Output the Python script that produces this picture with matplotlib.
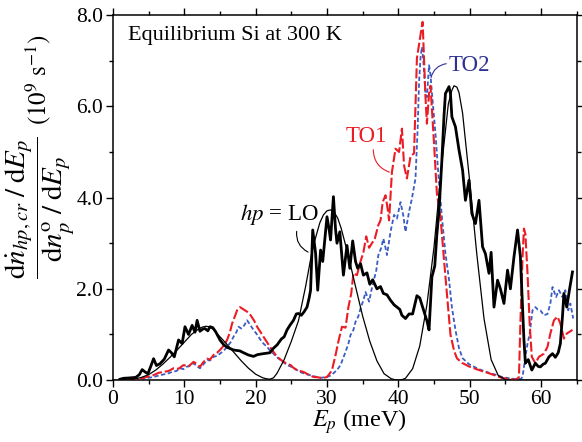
import matplotlib
matplotlib.use("Agg")
import matplotlib.pyplot as plt
from matplotlib.ticker import MultipleLocator, FormatStrFormatter

plt.rcParams["font.family"] = ["Liberation Serif", "DejaVu Serif"]
plt.rcParams["mathtext.fontset"] = "stix"

# phonon energy (meV) and normalised hot-phonon generation rate (1e9 s^-1)
lo_E = [1.0, 1.5, 2.5, 3.2, 3.7, 4.1, 4.5, 4.9, 5.3, 5.7, 6.1, 6.6, 7.2, 7.8, 8.2,
        8.6, 9.2, 9.7, 10.1, 10.6, 11.1, 11.5, 11.8, 12.2, 12.6, 12.9, 13.3, 13.6,
        14.0, 14.4, 15.0, 15.5, 16.0, 16.9, 17.8, 18.3, 19.0, 19.7, 20.3, 21.1,
        22.0, 22.5, 23.0, 23.6, 24.0, 24.4, 24.8, 25.3, 25.7, 26.0, 26.4, 26.8,
        27.2, 27.5, 27.7, 28.0, 28.4, 28.7, 29.1, 29.4, 29.7, 30.0, 30.3, 30.5,
        30.9, 31.2, 31.4, 31.8, 32.3, 32.8, 33.2, 33.6, 34.0, 34.3, 34.7, 35.1,
        35.6, 36.0, 36.4, 37.0, 37.5, 37.9, 38.4, 38.9, 39.4, 39.8, 40.2, 40.5,
        41.0, 41.5, 42.0, 42.6, 43.0, 43.5, 44.0, 44.3, 44.7, 45.1, 45.4, 45.7,
        46.1, 46.4, 46.6, 47.1, 47.3, 47.5, 48.0, 48.5, 49.0, 49.4, 49.9, 50.3,
        50.8, 51.3, 51.8, 52.2, 52.7, 53.0, 53.4, 53.9, 54.3, 54.8, 55.3, 55.7,
        56.2, 56.7, 57.1, 57.4, 57.6, 57.8, 58.2, 58.7, 59.2, 59.6, 59.9, 60.3,
        60.6, 61.1, 61.6, 62.0, 62.4, 62.7, 63.0, 63.2, 63.6, 64.0, 64.4]
lo_rate = [0.02, 0.04, 0.05, 0.06, 0.12, 0.23, 0.18, 0.14, 0.30, 0.47, 0.32, 0.36,
           0.46, 0.66, 0.60, 0.51, 0.88, 0.80, 1.17, 1.00, 1.20, 1.05, 1.31, 1.07,
           1.12, 1.13, 1.08, 1.17, 1.15, 1.06, 0.88, 0.78, 0.72, 0.66, 0.64, 0.60,
           0.55, 0.52, 0.56, 0.58, 0.60, 0.70, 0.77, 0.90, 0.95, 1.10, 1.20, 1.31,
           1.45, 1.46, 1.42, 1.50, 1.60, 1.80, 1.97, 3.29, 2.78, 1.97, 2.85, 2.60,
           3.10, 3.58, 3.30, 3.07, 4.02, 3.30, 3.00, 3.25, 2.30, 2.95, 2.45, 3.05,
           2.60, 2.45, 2.55, 2.30, 2.35, 2.10, 2.20, 2.00, 2.05, 1.90, 1.87, 1.75,
           1.65, 1.60, 1.55, 1.42, 1.35, 1.45, 1.45, 1.85, 1.80, 1.55, 1.30, 1.10,
           2.26, 2.50, 3.20, 3.72, 4.82, 5.80, 6.28, 6.43, 6.28, 5.77, 5.55, 5.04,
           4.60, 3.94, 4.38, 3.65, 3.43, 3.94, 2.92, 2.77, 2.34, 2.80, 1.60, 2.19,
           2.00, 1.68, 2.41, 2.00, 2.70, 3.29, 2.70, 1.60, 0.88, 0.37, 0.45, 0.22,
           0.37, 0.30, 0.29, 0.35, 0.37, 0.51, 0.58, 0.50, 0.60, 0.80, 1.40, 1.90,
           1.60, 2.00, 2.37]

to1_E = [2.0, 3.0, 4.0, 5.0, 5.7, 6.4, 7.1, 7.8, 8.5, 9.2, 9.9, 10.6, 11.3, 11.8,
         12.2, 12.7, 13.2, 13.6, 14.1, 14.6, 15.0, 15.5, 16.0, 16.4, 16.7, 17.1,
         17.4, 17.8, 18.3, 18.8, 19.3, 19.8, 20.2, 20.7, 21.1, 21.6, 22.0, 22.5,
         23.0, 23.5, 23.9, 24.4, 24.9, 25.3, 25.8, 26.2, 26.7, 27.4, 28.1, 28.8,
         29.4, 30.0, 30.4, 30.7, 31.2, 31.6, 32.1, 32.6, 33.0, 33.4, 33.7, 34.2,
         34.7, 35.1, 35.5, 35.9, 36.3, 36.7, 37.2, 37.5, 37.8, 38.2, 38.5, 38.7,
         39.1, 39.6, 40.1, 40.5, 40.8, 41.2, 41.7, 42.2, 42.6, 43.1, 43.4, 43.8,
         44.0, 44.3, 44.5, 45.0, 45.4, 45.9, 46.4, 46.8, 47.3, 47.8, 48.2, 48.9,
         49.9, 51.3, 52.7, 53.6, 54.5, 55.5, 56.5, 56.9, 57.1, 57.4, 57.6, 57.8,
         58.1, 58.4, 58.7, 59.2, 59.7, 60.4, 60.9, 61.3, 61.8, 62.3, 62.7, 63.2,
         63.6, 64.4]
to1_rate = [0.00, 0.02, 0.04, 0.08, 0.11, 0.16, 0.18, 0.20, 0.26, 0.25, 0.33, 0.30,
            0.40, 0.35, 0.29, 0.40, 0.47, 0.45, 0.55, 0.60, 0.66, 0.75, 0.88, 1.05,
            1.24, 1.40, 1.53, 1.60, 1.55, 1.50, 1.42, 1.30, 1.17, 1.05, 0.95, 0.83,
            0.73, 0.62, 0.51, 0.45, 0.40, 0.36, 0.33, 0.27, 0.22, 0.20, 0.18, 0.12,
            0.07, 0.06, 0.04, 0.07, 0.15, 0.22, 0.55, 0.85, 1.17, 1.15, 1.60, 1.90,
            2.34, 2.30, 2.60, 2.80, 3.15, 2.90, 3.00, 3.10, 3.40, 3.50, 3.90, 4.05,
            3.75, 3.50, 4.56, 5.07, 5.00, 5.51, 4.70, 4.42, 4.90, 4.97, 7.05, 7.56,
            7.85, 6.20, 5.62, 6.28, 6.45, 5.18, 4.09, 3.58, 2.63, 1.90, 1.00, 0.65,
            0.48, 0.38, 0.30, 0.22, 0.15, 0.10, 0.05, 0.02, 0.01, 0.07, 1.24, 2.70,
            3.32, 3.20, 2.34, 1.24, 0.51, 0.37, 0.51, 0.58, 0.73, 1.02, 1.31, 1.39,
            1.24, 0.91, 1.02, 1.10]

to2_E = [2.0, 3.0, 4.0, 5.0, 5.7, 6.4, 7.2, 7.8, 8.3, 8.9, 9.4, 9.9, 10.3, 10.8,
         11.3, 11.8, 12.2, 12.7, 13.2, 13.6, 14.1, 14.6, 15.0, 15.5, 16.0, 16.5,
         16.9, 17.3, 17.6, 18.0, 18.4, 18.8, 19.2, 19.7, 20.2, 20.7, 21.1, 21.6,
         22.0, 22.5, 23.0, 23.5, 24.0, 24.4, 24.9, 25.3, 25.8, 26.2, 26.9, 27.6,
         28.3, 29.1, 30.0, 30.5, 30.9, 31.4, 31.9, 32.6, 33.0, 33.3, 33.7, 34.0,
         34.4, 34.7, 35.1, 35.4, 35.9, 36.2, 36.5, 36.9, 37.2, 37.6, 37.9, 38.2,
         38.4, 38.9, 39.4, 39.8, 40.3, 40.7, 41.0, 41.5, 41.9, 42.4, 42.7, 42.9,
         43.1, 43.3, 43.5, 43.8, 44.0, 44.3, 44.5, 44.7, 45.2, 45.7, 46.1, 46.6,
         47.1, 47.5, 48.0, 48.5, 49.0, 49.9, 50.5, 51.3, 52.0, 52.7, 53.6, 54.5,
         55.5, 56.5, 57.2, 57.4, 57.8, 58.1, 58.4, 58.8, 59.2, 59.5, 59.9, 60.4,
         60.9, 61.3, 61.6, 62.1, 62.5, 63.0, 63.4, 63.8, 64.1, 64.5]
to2_rate = [0.00, 0.02, 0.03, 0.05, 0.07, 0.10, 0.13, 0.15, 0.18, 0.20, 0.26, 0.24,
            0.29, 0.32, 0.37, 0.30, 0.26, 0.35, 0.44, 0.43, 0.51, 0.53, 0.58, 0.64,
            0.73, 0.83, 0.95, 1.05, 1.17, 1.13, 1.20, 1.31, 1.22, 1.10, 1.00, 0.88,
            0.80, 0.73, 0.65, 0.58, 0.50, 0.44, 0.38, 0.33, 0.30, 0.26, 0.22, 0.18,
            0.14, 0.11, 0.08, 0.05, 0.07, 0.10, 0.15, 0.22, 0.33, 0.62, 0.80, 0.99,
            1.10, 1.28, 1.40, 1.57, 1.75, 1.93, 1.72, 1.95, 2.15, 2.40, 2.74, 2.90,
            3.10, 2.90, 2.74, 3.25, 3.62, 3.54, 3.90, 3.60, 3.25, 3.69, 3.98, 4.42,
            5.50, 6.53, 7.05, 7.30, 7.00, 6.28, 6.20, 6.90, 6.70, 6.30, 5.40, 4.31,
            3.58, 2.77, 2.20, 1.60, 1.10, 0.70, 0.48, 0.35, 0.30, 0.24, 0.20, 0.16,
            0.12, 0.07, 0.04, 0.02, 0.03, 0.07, 0.51, 0.80, 1.02, 1.53, 1.60, 1.55,
            1.53, 1.42, 1.45, 1.68, 2.04, 1.82, 1.97, 1.82, 1.97, 1.53, 1.68, 1.35]

# analytic LO curve
model_E = [0, 1, 2, 3, 4, 5, 6, 7, 8, 9, 10, 11, 12, 12.5, 13, 13.5, 14, 15, 16,
           17, 18, 19, 20, 21, 21.5, 22, 22.5, 23, 24, 25, 26, 27, 28, 29, 29.5,
           30, 30.5, 31, 31.5, 32, 33, 34, 35, 36, 37, 38, 39, 39.5, 40, 40.5, 41,
           42, 43, 44, 45, 46, 47, 47.5, 47.8, 48.2, 48.5, 49, 50, 51, 52, 53,
           54, 55, 56, 65]
model_rate = [0.00, 0.00, 0.00, 0.02, 0.06, 0.12, 0.22, 0.35, 0.50, 0.66, 0.83,
              1.00, 1.12, 1.16, 1.18, 1.17, 1.12, 0.95, 0.78, 0.60, 0.42, 0.26,
              0.13, 0.05, 0.03, 0.02, 0.05, 0.15, 0.45, 0.85, 1.30, 2.05, 2.90,
              3.45, 3.62, 3.71, 3.73, 3.68, 3.55, 3.32, 2.72, 2.05, 1.40, 0.85,
              0.42, 0.14, 0.03, 0.01, 0.00, 0.01, 0.04, 0.25, 0.75, 1.65, 2.92,
              4.60, 6.05, 6.35, 6.45, 6.42, 6.30, 5.85, 4.35, 2.75, 1.35, 0.45,
              0.10, 0.01, 0.00, 0.00]

RED = "#ec1c24"
BLUE = "#3a5cc4"
NAVY = "#2e3192"

fig = plt.figure(figsize=(5.82, 4.42), dpi=100)
ax = fig.add_axes([0.194, 0.140, 0.797, 0.826])

ax.plot(to2_E, to2_rate, color=BLUE, lw=1.3, dashes=(2.4, 1.4), zorder=2)
ax.plot(to1_E, to1_rate, color=RED, lw=1.5, dashes=(4.8, 1.4), zorder=3)
ax.plot(model_E, model_rate, color="black", lw=0.9, zorder=4)
ax.plot(lo_E, lo_rate, color="black", lw=2.0, zorder=5)

ax.set_xlim(0, 65)
ax.set_ylim(0, 8)
ax.xaxis.set_major_locator(MultipleLocator(10))
ax.xaxis.set_minor_locator(MultipleLocator(5))
ax.yaxis.set_major_locator(MultipleLocator(2))
ax.yaxis.set_minor_locator(MultipleLocator(1))
ax.yaxis.set_major_formatter(FormatStrFormatter("%.1f"))
ax.tick_params(which="both", direction="out", top=True, right=True,
               width=1.0, labelsize=15.5, pad=2)
ax.tick_params(which="major", length=5)
ax.tick_params(which="minor", length=3)
for sp in ax.spines.values():
    sp.set_linewidth(1.1)

ax.set_xlabel(r"$E_p$ (meV)", fontsize=17.5, labelpad=-1, x=0.532)

# y label: rate ratio as a stacked fraction, units level with the bar
fig.text(0.068, 0.530,
         r"$\dfrac{\mathrm{d}\dot{n}_{hp,cr}\;/\;\mathrm{d}E_p}"
         r"{\mathrm{d}n_p^{\mathrm{o}}\;/\;\mathrm{d}E_p}$",
         fontsize=21, rotation=90, ha="center", va="center")
fig.text(0.066, 0.819, r"$(10^9\ \mathrm{s}^{-1})$",
         fontsize=18, rotation=90, ha="center", va="center")

ax.text(2.1, 7.55, "Equilibrium Si at 300 K", fontsize=16, va="center", ha="left")

ax.text(23.3, 3.62, r"$hp$ = LO", fontsize=16.5, ha="center", va="center")
ax.annotate("", xy=(27.7, 2.78), xytext=(25.8, 3.32),
            arrowprops=dict(arrowstyle="-", color="black", lw=0.8,
                            connectionstyle="arc3,rad=0.4"))

ax.text(35.5, 5.33, "TO1", fontsize=16.5, color=RED, ha="center", va="center")
ax.annotate("", xy=(39.1, 4.54), xytext=(36.5, 5.11),
            arrowprops=dict(arrowstyle="-", color=RED, lw=0.8,
                            connectionstyle="arc3,rad=0.4"))

ax.text(49.9, 6.9, "TO2", fontsize=16.5, color=NAVY, ha="center", va="center")
ax.annotate("", xy=(44.5, 6.57), xytext=(47.1, 6.94),
            arrowprops=dict(arrowstyle="-", color=NAVY, lw=0.8,
                            connectionstyle="arc3,rad=0.4"))

fig.savefig("out.png", dpi=100)
